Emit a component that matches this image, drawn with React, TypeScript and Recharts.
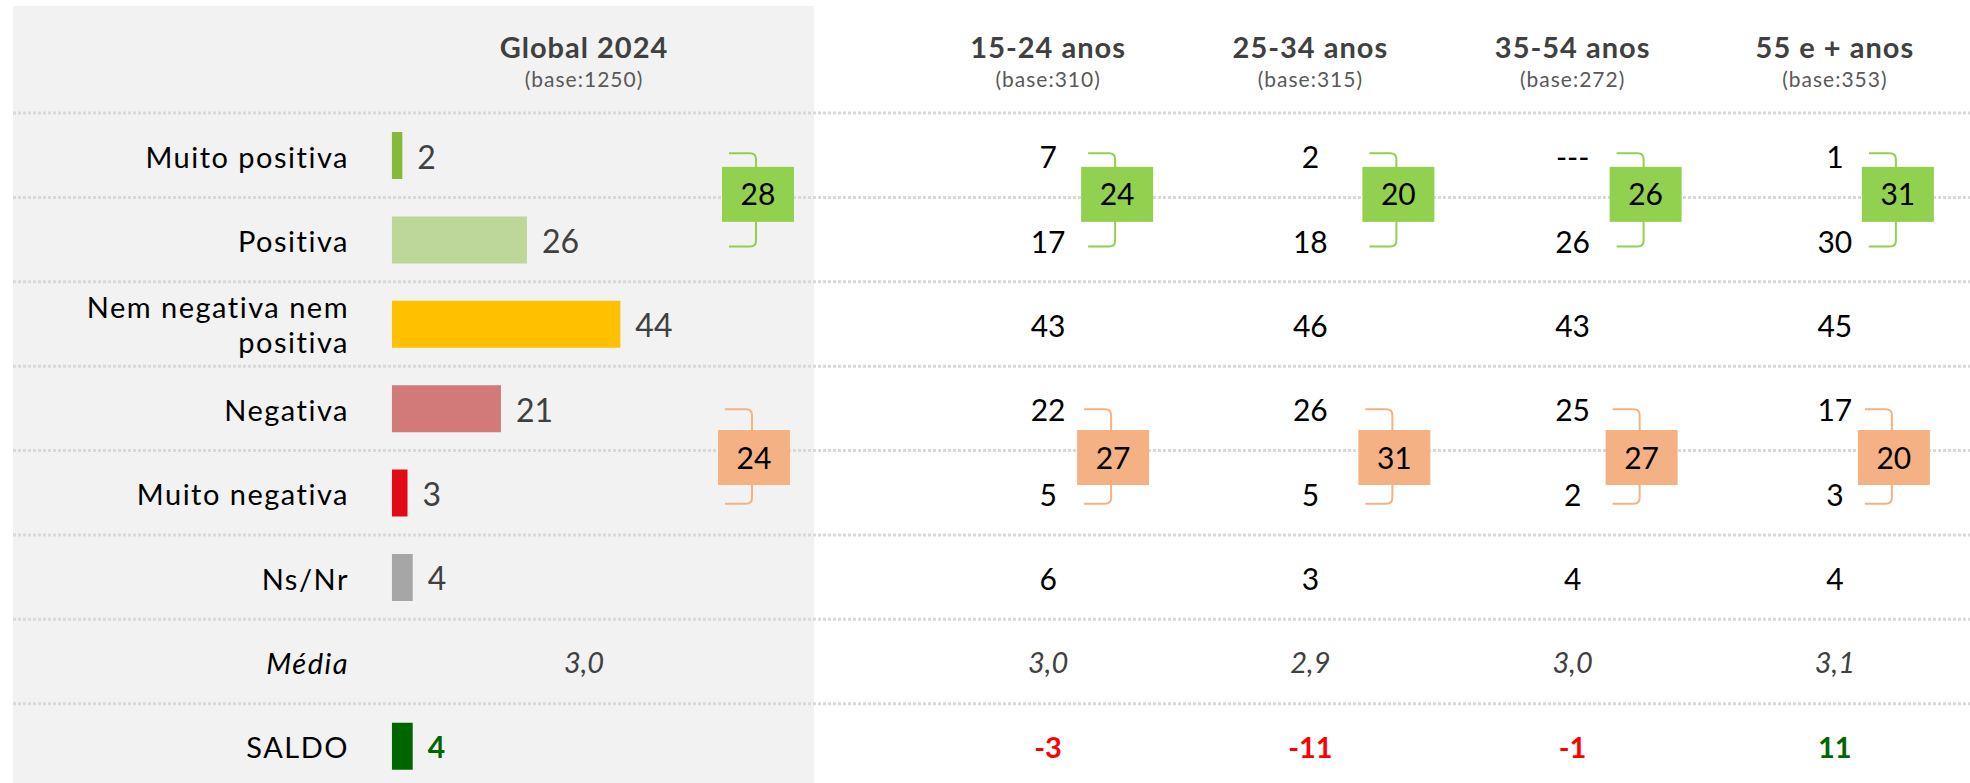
import React from 'react';
import { ComposedChart, Bar, Scatter, XAxis, YAxis, CartesianGrid, Cell, LabelList } from 'recharts';

const ROWS = ['Muito positiva', 'Positiva', 'Nem negativa nem positiva', 'Negativa', 'Muito negativa', 'Ns/Nr', 'Média', 'SALDO'];

const GLOBAL_LABEL = 'Global 2024';
const GLOBAL_BASE = 1250;
const GLOBAL_VALUES = [2, 26, 44, 21, 3, 4];
const GLOBAL_MEDIA = 3.0;
const GLOBAL_SALDO = 4;
const GLOBAL_POS = 28;
const GLOBAL_NEG = 24;

const AGE_GROUPS = ['15-24 anos', '25-34 anos', '35-54 anos', '55 e + anos'];
const AGE_BASES = [310, 315, 272, 353];
// null = "---" (no answers)
const AGE_VALUES = [
  [7, 17, 43, 22, 5, 6],
  [2, 18, 46, 26, 5, 3],
  [null, 26, 43, 25, 2, 4],
  [1, 30, 45, 17, 3, 4],
];
const AGE_MEDIA = [3.0, 2.9, 3.0, 3.1];
const AGE_SALDO = [-3, -11, -1, 11];
const AGE_POS = [24, 20, 26, 31];
const AGE_NEG = [27, 31, 27, 20];

const BAR_COLORS = ['#86b83c', '#bdd699', '#ffc000', '#d17a79', '#e20a16', '#a6a6a6', 'none', 'none'];
const SALDO_COLOR = '#006600';

// layout
const FONT = 'Lato, "Noto Sans", sans-serif';
const CHART_W = 1970;
const CHART_H = 788;
const MARGIN = { top: 111, right: 0, bottom: 0, left: 12 };
const PLOT_TOP = 113;
const ROW_H = (CHART_H - PLOT_TOP - MARGIN.bottom) / ROWS.length;
const LABEL_RIGHT = 349;
const BRACKET_DX: Record<string, number> = {
  'Global 2024': 174,
  '15-24 anos': 69,
  '25-34 anos': 88,
  '35-54 anos': 73,
  '55 e + anos': 63,
};

const barData = ROWS.map((row, i) => ({
  row,
  value: i < GLOBAL_VALUES.length ? GLOBAL_VALUES[i] : null,
  saldo: row === 'SALDO' ? GLOBAL_SALDO : null,
}));

const cellData = AGE_GROUPS.flatMap((col, c) => [
  ...AGE_VALUES[c].map((v, r) => ({ col, row: ROWS[r], kind: 'pct', value: v })),
  { col, row: 'Média', kind: 'media', value: AGE_MEDIA[c] },
  { col, row: 'SALDO', kind: 'saldo', value: AGE_SALDO[c] },
]);

const globalCells = [{ col: GLOBAL_LABEL, row: 'Média', kind: 'media', value: GLOBAL_MEDIA }];

const totalData = AGE_GROUPS.flatMap((col, c) => [
  { col, row: 'Muito positiva', kind: 'pos', total: AGE_POS[c] },
  { col, row: 'Negativa', kind: 'neg', total: AGE_NEG[c] },
]);

const globalTotals = [
  { col: GLOBAL_LABEL, row: 'Muito positiva', kind: 'pos', total: GLOBAL_POS },
  { col: GLOBAL_LABEL, row: 'Negativa', kind: 'neg', total: GLOBAL_NEG },
];

const fmtDec = (v: number) => v.toFixed(1).replace('.', ',');

const HeaderTick = (props: any) => {
  const { x, payload } = props;
  const name = payload.value;
  const gi = AGE_GROUPS.indexOf(name);
  const base = gi >= 0 ? AGE_BASES[gi] : GLOBAL_BASE;
  return (
    <g>
      <text x={x} y={58} textAnchor="middle" fontFamily={FONT} fontWeight={700} fontSize={29} letterSpacing={1} fill="#404040">
        {name}
      </text>
      <text x={x} y={87} textAnchor="middle" fontFamily={FONT} fontSize={21} letterSpacing={1} fill="#595959">
        {`(base:${base})`}
      </text>
    </g>
  );
};

const RowLabel = (props: any) => {
  const { y, payload } = props;
  const text: string = payload.value;
  const italic = text === 'Média';
  if (text.length > 18) {
    const cut = text.lastIndexOf(' ');
    return (
      <text x={LABEL_RIGHT} y={y - 6} textAnchor="end" fontFamily={FONT} fontSize={29} letterSpacing={1.5} fill="#000">
        <tspan x={LABEL_RIGHT}>{text.slice(0, cut)}</tspan>
        <tspan x={LABEL_RIGHT} dy={35}>{text.slice(cut + 1)}</tspan>
      </text>
    );
  }
  return (
    <text
      x={LABEL_RIGHT}
      y={y + 12.5}
      textAnchor="end"
      fontFamily={FONT}
      fontSize={29}
      letterSpacing={1.5}
      fontStyle={italic ? 'italic' : 'normal'}
      fill="#000"
    >
      {text}
    </text>
  );
};

const BarValue = (props: any) => {
  const { x, y, width, height, value } = props;
  if (value == null) return null;
  return (
    <text x={x + width + 15} y={y + height / 2 + 13} fontFamily={FONT} fontSize={32} fill="#404040">
      {value}
    </text>
  );
};

const SaldoValue = (props: any) => {
  const { x, y, width, height, value } = props;
  if (value == null) return null;
  return (
    <text x={x + width + 15} y={y + height / 2 + 12} fontFamily={FONT} fontSize={30} fontWeight={700} fill={SALDO_COLOR}>
      {value}
    </text>
  );
};

const CellText = (props: any) => {
  const { cx, cy, payload } = props;
  if (cx == null || cy == null) return null;
  const { kind, value } = payload;
  if (kind === 'media') {
    return (
      <text x={cx} y={cy + 12} textAnchor="middle" fontFamily={FONT} fontSize={29} fontStyle="italic" fill="#404040">
        {fmtDec(value)}
      </text>
    );
  }
  if (kind === 'saldo') {
    return (
      <text x={cx} y={cy + 12} textAnchor="middle" fontFamily={FONT} fontSize={29} fontWeight={700} fill={value < 0 ? '#ff0000' : SALDO_COLOR}>
        {value}
      </text>
    );
  }
  return (
    <text x={cx} y={cy + 13} textAnchor="middle" fontFamily={FONT} fontSize={30} fill="#000">
      {value == null ? '---' : value}
    </text>
  );
};

const Bracket = (props: any) => {
  const { cx, cy, payload } = props;
  if (cx == null || cy == null) return null;
  const pos = payload.kind === 'pos';
  const color = pos ? '#92d050' : '#f4b183';
  const bx = cx + (BRACKET_DX[payload.col] || 70) - (pos ? 0 : 4);
  const lx = bx - 2;
  const top = cy + (pos ? -2 : 1);
  const bottom = cy + ROW_H + (pos ? 7 : 11);
  const mid = cy + ROW_H / 2 + (pos ? -3 : 7);
  const d = `M${lx - 27},${top} L${lx - 6},${top} Q${lx},${top} ${lx},${top + 6} L${lx},${bottom - 6} Q${lx},${bottom} ${lx - 6},${bottom} L${lx - 27},${bottom}`;
  return (
    <g>
      <path d={d} fill="none" stroke={color} strokeWidth={2} />
      <rect x={bx - 36} y={mid - 27.5} width={72} height={55} fill={color} />
      <text x={bx} y={mid + 11} textAnchor="middle" fontFamily={FONT} fontSize={30} fill="#000">
        {payload.total}
      </text>
    </g>
  );
};

export default function App() {
  const gridPoints = ROWS.map((_, i) => PLOT_TOP + i * ROW_H);
  return (
    <div style={{ position: 'absolute', left: 0, top: 0, width: CHART_W, height: 783, overflow: 'hidden', background: '#fff' }}>
      <div style={{ position: 'absolute', left: 13, top: 6, width: 801, height: 777, background: '#f2f2f2' }} />
      <div style={{ position: 'absolute', left: 0, top: 0 }}>
        <ComposedChart width={CHART_W} height={CHART_H} data={barData} layout="vertical" margin={MARGIN}>
          <CartesianGrid
            xAxisId="val"
            vertical={false}
            horizontalPoints={gridPoints}
            stroke="#d9d9d9"
            strokeWidth={3}
            strokeDasharray="3 2"
          />
          <XAxis xAxisId="val" type="number" domain={[-73, 304]} hide />
          <XAxis
            xAxisId="cols"
            type="category"
            dataKey="col"
            orientation="top"
            allowDuplicatedCategory={false}
            padding={{ left: 904, right: 4 }}
            height={1}
            axisLine={false}
            tickLine={false}
            interval={0}
            tick={(p: any) => <HeaderTick {...p} />}
          />
          <XAxis
            xAxisId="global"
            type="category"
            dataKey="col"
            orientation="top"
            allowDuplicatedCategory={false}
            padding={{ left: 341, right: 1156 }}
            height={1}
            axisLine={false}
            tickLine={false}
            interval={0}
            tick={(p: any) => <HeaderTick {...p} />}
          />
          <YAxis
            type="category"
            dataKey="row"
            width={1}
            allowDuplicatedCategory={false}
            axisLine={false}
            tickLine={false}
            interval={0}
            tick={(p: any) => <RowLabel {...p} />}
          />
          <Scatter xAxisId="cols" data={cellData} shape={(p: any) => <CellText {...p} />} isAnimationActive={false} />
          <Bar xAxisId="val" dataKey="value" stackId="g" barSize={47} isAnimationActive={false}>
            {barData.map((d, i) => (
              <Cell key={d.row} fill={BAR_COLORS[i]} />
            ))}
            <LabelList dataKey="value" content={(p: any) => <BarValue {...p} />} />
          </Bar>
          <Bar xAxisId="val" dataKey="saldo" stackId="g" barSize={47} fill={SALDO_COLOR} isAnimationActive={false}>
            <LabelList dataKey="saldo" content={(p: any) => <SaldoValue {...p} />} />
          </Bar>
          <Scatter xAxisId="global" data={globalCells} shape={(p: any) => <CellText {...p} />} isAnimationActive={false} />
          <Scatter xAxisId="cols" data={totalData} shape={(p: any) => <Bracket {...p} />} isAnimationActive={false} />
          <Scatter xAxisId="global" data={globalTotals} shape={(p: any) => <Bracket {...p} />} isAnimationActive={false} />
        </ComposedChart>
      </div>
    </div>
  );
}
